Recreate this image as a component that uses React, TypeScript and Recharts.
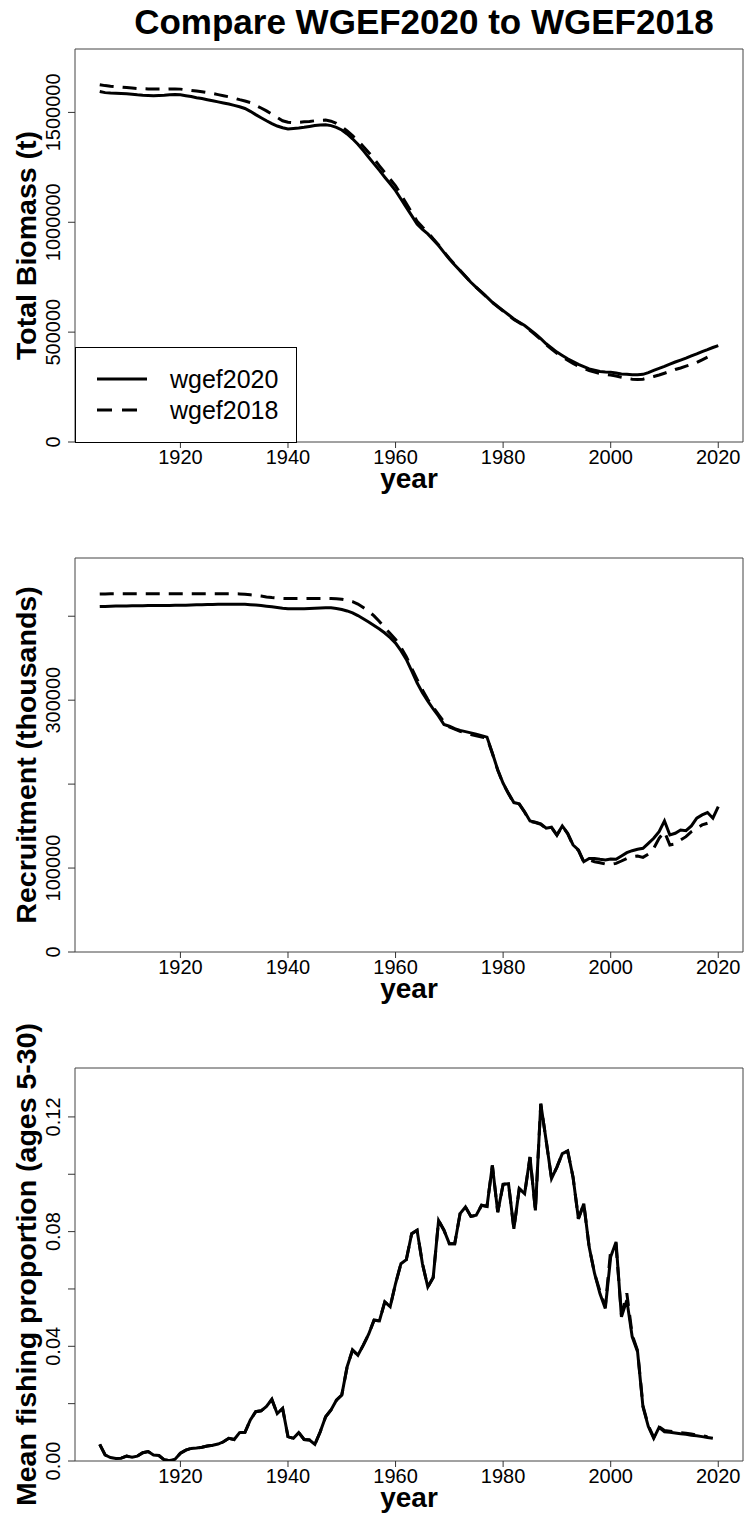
import React from "react";
import { LineChart, Line, XAxis, YAxis, ReferenceArea, Legend } from "recharts";

const FONT = '"Liberation Sans", Arial, Helvetica, sans-serif';

// years shared by every panel
const years: number[] = Array.from({ length: 116 }, (_, i) => 1905 + i);
const yearTicks = [1920, 1940, 1960, 1980, 2000, 2020];

// total biomass (t)
const biomass2020 = [
  1595000, 1590000, 1588000, 1587000, 1586000, 1585000, 1583000, 1580000, 1578000, 1577000,
  1576000, 1577000, 1578000, 1580000, 1581000, 1580000, 1576000, 1572000, 1567000, 1563000,
  1558000, 1553000, 1548000, 1543000, 1538000, 1532000, 1526000, 1518000, 1505000, 1490000,
  1476000, 1462000, 1449000, 1438000, 1430000, 1425000, 1427000, 1429000, 1432000, 1436000,
  1440000, 1443000, 1444000, 1440000, 1432000, 1420000, 1402000, 1380000, 1355000, 1326000,
  1296000, 1266000, 1236000, 1205000, 1175000, 1144000, 1106000, 1068000, 1030000, 992000,
  968000, 947000, 920000, 894000, 863000, 833000, 806000, 780000, 753000, 727000,
  704000, 682000, 659000, 636000, 617000, 598000, 579000, 560000, 545000, 530000,
  511000, 492000, 470000, 447000, 428000, 409000, 394000, 379000, 366000, 353000,
  343000, 333000, 327000, 321000, 319000, 318000, 314000, 310000, 308000, 306000,
  306000, 308000, 316000, 326000, 335000, 344000, 354000, 364000, 373000, 382000,
  392000, 401000, 411000, 420000, 430000, 439000,
];
const biomass2018 = [
  1626000, 1622000, 1619000, 1617000, 1615000, 1613000, 1611000, 1609000, 1608000, 1607000,
  1606000, 1606000, 1606000, 1607000, 1607000, 1606000, 1603000, 1600000, 1597000, 1594000,
  1590000, 1586000, 1581000, 1576000, 1571000, 1565000, 1558000, 1552000, 1545000, 1532000,
  1520000, 1507000, 1492000, 1477000, 1462000, 1455000, 1453000, 1455000, 1457000, 1459000,
  1462000, 1464000, 1465000, 1460000, 1450000, 1435000, 1416000, 1394000, 1371000, 1345000,
  1318000, 1288000, 1257000, 1226000, 1196000, 1166000, 1126000, 1085000, 1045000, 1005000,
  978000, 955000, 925000, 897000, 866000, 835000, 808000, 781000, 754000, 727000,
  704000, 681000, 658000, 635000, 615000, 596000, 577000, 558000, 543000, 527000,
  508000, 488000, 466000, 443000, 423000, 404000, 388000, 372000, 358000, 345000,
  335000, 325000, 318000, 312000, 308000, 305000, 300000, 295000, 290000, 286000,
  285000, 286000, 292000, 298000, 305000, 313000, 321000, 330000, 337000, 345000,
  353000, 362000, 374000, 386000,
];

// recruitment (thousands)
const recruit2020 = [
  411500, 411700, 411900, 412100, 412200, 412300, 412400, 412500, 412600, 412700,
  412800, 412800, 412900, 412900, 413000, 413000, 413200, 413400, 413600, 413800,
  414000, 414100, 414200, 414300, 414300, 414300, 414400, 414200, 413800, 413300,
  412800, 412000, 411200, 410300, 409500, 409000, 408800, 408800, 409000, 409300,
  409500, 409800, 410000, 410000, 409300, 408000, 406300, 404000, 400800, 397000,
  393200, 389000, 384700, 380000, 374500, 368000, 359000, 348600, 335000, 320700,
  309000, 298800, 289500, 280900, 271000, 269000, 266000, 264000, 262500, 261000,
  259500, 257800, 256000, 237000, 217000, 201000, 189000, 178000, 176500, 167000,
  156000, 154600, 152600, 147400, 148600, 139400, 150200, 141400, 127500, 121500,
  107600, 111500, 111500, 110400, 109600, 110800, 110400, 114300, 118300, 120700,
  122300, 123500, 129500, 135500, 143400, 156200, 139400, 141400, 145400, 144600,
  150200, 159400, 163300, 166100, 159400, 173300,
];
const recruit2018 = [
  426500, 426600, 426700, 426700, 426700, 426700, 426700, 426700, 426700, 426700,
  426700, 426700, 426700, 426700, 426700, 426700, 426700, 426700, 426700, 426700,
  426700, 426700, 426700, 426700, 426700, 426700, 426600, 426200, 425500, 424800,
  424000, 423000, 422200, 421600, 421300, 421100, 421000, 421000, 421000, 421100,
  421100, 421100, 421100, 421000, 420800, 420300, 419200, 417500, 414500, 410300,
  405800, 400400, 393800, 386400, 379500, 372500, 363000, 351800, 338000, 324700,
  312000, 300800, 291500, 282900, 274000, 268100, 265500, 263000, 261000, 259000,
  257600, 256200, 255000, 236500, 216500, 200500, 188500, 177500, 176000, 166500,
  155500, 154200, 152200, 147000, 148200, 139000, 149800, 141000, 127000, 121000,
  107000, 109600, 107600, 106400, 104800, 104400, 105600, 108400, 111500, 113500,
  114300, 112700, 116700, 123500, 135500, 143400, 127500, 128700, 133500, 137400,
  143400, 147400, 151400, 153400,
];

// mean fishing proportion (ages 5-30)
const fishing2020 = [
  0.0058, 0.0021, 0.0012, 0.0009, 0.001, 0.0017, 0.0013, 0.0017, 0.0029, 0.0033,
  0.0021, 0.0019, 0.0004, 0.0001, 0.0006, 0.0027, 0.0038, 0.0044, 0.0045, 0.0048,
  0.0052, 0.0055, 0.0059, 0.0067, 0.0079, 0.0075, 0.0099, 0.01, 0.0143, 0.0172,
  0.0175, 0.019, 0.0215, 0.0165, 0.0183, 0.0085, 0.0079, 0.0099, 0.0075, 0.0073,
  0.0058, 0.0102, 0.0154, 0.0178, 0.0212, 0.023, 0.0329, 0.0387, 0.0369, 0.0404,
  0.0442, 0.0491, 0.0489, 0.0555, 0.0538, 0.0619, 0.0688, 0.0702, 0.0793, 0.0805,
  0.0688, 0.0607, 0.064, 0.0839, 0.0805, 0.0758, 0.0758, 0.0863, 0.0886, 0.0853,
  0.0857, 0.0892, 0.0888, 0.1031, 0.0868, 0.0965, 0.0967, 0.081, 0.095, 0.0932,
  0.106, 0.0874, 0.1246, 0.1118, 0.0985, 0.1025, 0.1072, 0.1081, 0.099, 0.0845,
  0.0897, 0.0746, 0.0654, 0.0584, 0.0532, 0.0712, 0.0764, 0.0503, 0.0561, 0.0433,
  0.0381, 0.0189, 0.012, 0.0079, 0.0117, 0.0102, 0.01, 0.0098, 0.0095, 0.0093,
  0.009, 0.0088, 0.0085, 0.0082, 0.0079,
];
const fishing2018 = [
  0.0058, 0.0021, 0.0012, 0.0009, 0.001, 0.0017, 0.0013, 0.0017, 0.0029, 0.0033,
  0.0021, 0.0019, 0.0004, 0.0001, 0.0006, 0.0027, 0.0038, 0.0044, 0.0045, 0.0048,
  0.0052, 0.0055, 0.0059, 0.0067, 0.0079, 0.0075, 0.0099, 0.01, 0.0143, 0.0172,
  0.0175, 0.019, 0.0215, 0.0165, 0.0183, 0.0085, 0.0079, 0.0099, 0.0075, 0.0073,
  0.0058, 0.0102, 0.0154, 0.0178, 0.0212, 0.023, 0.0329, 0.0387, 0.0369, 0.0404,
  0.0442, 0.0491, 0.0489, 0.0555, 0.0538, 0.0619, 0.0688, 0.0702, 0.0793, 0.0805,
  0.0688, 0.0607, 0.064, 0.0839, 0.0805, 0.0758, 0.0758, 0.0863, 0.0886, 0.0853,
  0.0857, 0.0892, 0.0888, 0.1031, 0.0868, 0.0965, 0.0967, 0.081, 0.095, 0.0932,
  0.106, 0.0874, 0.1246, 0.1118, 0.0985, 0.1025, 0.1072, 0.1081, 0.099, 0.0845,
  0.0897, 0.0746, 0.0654, 0.0592, 0.054, 0.0735, 0.075, 0.051, 0.0585, 0.044,
  0.0385, 0.0192, 0.0123, 0.0082, 0.0119, 0.0106, 0.0104, 0.0101, 0.0099, 0.0097,
  0.0094, 0.0091, 0.0088, 0.0085,
];

const biomassTicks = [0, 500000, 1000000, 1500000];
const recruitTicks = [0, 100000, 200000, 300000, 400000];
const recruitShown = [0, 100000, 300000];
const fishingTicks = [0, 0.02, 0.04, 0.06, 0.08, 0.1, 0.12];
const fishingShown = [0, 0.04, 0.08, 0.12];

const X_MIN = 1900.4;
const X_MAX = 2024.6;

const toRows = (a: number[], b: number[]) =>
  years.map((year, i) => ({ year, a: a[i], b: b[i] }));

const YTitle = ({ text, midY }: { text: string; midY: number }) => (
  <text
    x={36}
    y={midY}
    transform={`rotate(-90 36 ${midY})`}
    textAnchor="middle"
    fontFamily={FONT}
    fontWeight="bold"
    fontSize={28.5}
    fill="#000"
  >
    {text}
  </text>
);

const XTitle = ({ baseY }: { baseY: number }) => (
  <text x={409} y={baseY} textAnchor="middle" fontFamily={FONT} fontWeight="bold" fontSize={28} fill="#000">
    year
  </text>
);

const LegendBox = () => (
  <svg width={222} height={96} style={{ display: "block" }}>
    <rect x={0.5} y={0.5} width={221} height={95} fill="#fff" stroke="#000" strokeWidth={1} />
    <line x1={22} x2={72} y1={32} y2={32} stroke="#000" strokeWidth={3} />
    <line x1={22} x2={72} y1={63} y2={63} stroke="#000" strokeWidth={3} strokeDasharray="15 10" />
    <text x={95} y={41} fontFamily={FONT} fontSize={25} fill="#000">wgef2020</text>
    <text x={95} y={72} fontFamily={FONT} fontSize={25} fill="#000">wgef2018</text>
  </svg>
);

type PanelProps = {
  top: number;
  height: number;
  plotTop: number;
  plotBottom: number;
  rows: { year: number; a?: number; b?: number }[];
  yMax: number;
  yTicks: number[];
  yShown: number[];
  fmt: (v: number) => string;
  title: string;
  legend?: boolean;
};

const Panel = ({ top, height, plotTop, plotBottom, rows, yMax, yTicks, yShown, fmt, title, legend }: PanelProps) => {
  const midY = (plotTop + plotBottom) / 2;
  const YTick = (props: any) => {
    const { y, payload } = props;
    if (!yShown.some((s) => Math.abs(s - payload.value) < 1e-9)) return <g />;
    return (
      <text
        x={60}
        y={y}
        transform={`rotate(-90 60 ${y})`}
        textAnchor="middle"
        fontFamily={FONT}
        fontSize={20}
        fill="#000"
      >
        {fmt(payload.value)}
      </text>
    );
  };
  return (
    <div style={{ position: "absolute", left: 0, top, width: 745, height }}>
      <LineChart
        width={745}
        height={height}
        data={rows}
        margin={{ top: plotTop, right: 2, left: 0, bottom: 0 }}
      >
        <XAxis
          dataKey="year"
          type="number"
          domain={[X_MIN, X_MAX]}
          ticks={yearTicks}
          allowDataOverflow
          height={height - plotBottom}
          axisLine={false}
          tickSize={6}
          tickMargin={2}
          tickLine={{ stroke: "#333" }}
          tick={{ fill: "#000", fontSize: 20, fontFamily: FONT }}
          label={<XTitle baseY={plotBottom + 46} />}
        />
        <YAxis
          type="number"
          domain={[0, yMax]}
          ticks={yTicks}
          allowDataOverflow
          width={75}
          axisLine={false}
          tickSize={7}
          tickLine={{ stroke: "#333" }}
          tick={<YTick />}
          label={<YTitle text={title} midY={midY} />}
        />
        <ReferenceArea
          x1={X_MIN}
          x2={X_MAX}
          y1={0}
          y2={yMax}
          fill="none"
          fillOpacity={0}
          stroke="#444"
          strokeWidth={1}
          ifOverflow="visible"
        />
        <Line
          dataKey="b"
          type="linear"
          stroke="#000"
          strokeWidth={3}
          strokeDasharray="14 9"
          dot={false}
          isAnimationActive={false}
        />
        <Line dataKey="a" type="linear" stroke="#000" strokeWidth={3} dot={false} isAnimationActive={false} />
        {legend && (
          <Legend
            layout="vertical"
            align="center"
            verticalAlign="middle"
            content={() => <LegendBox />}
            wrapperStyle={{ left: 75, top: plotBottom - 95, width: 222, height: 96 }}
          />
        )}
      </LineChart>
    </div>
  );
};

const maxOf = (a: number[], b: number[]) => Math.max(...a, ...b) * 1.1;

export default function App() {
  return (
    <div
      style={{
        position: "absolute",
        left: 0,
        top: 0,
        width: 745,
        height: 1517,
        overflow: "hidden",
        background: "#fff",
      }}
    >
      <svg width={745} height={48} style={{ position: "absolute", left: 0, top: 0 }}>
        <text x={424} y={34} textAnchor="middle" fontFamily={FONT} fontWeight="bold" fontSize={35} fill="#000">
          Compare WGEF2020 to WGEF2018
        </text>
      </svg>
      <Panel
        top={0}
        height={510}
        plotTop={49}
        plotBottom={442}
        rows={toRows(biomass2020, biomass2018)}
        yMax={maxOf(biomass2020, biomass2018)}
        yTicks={biomassTicks}
        yShown={biomassTicks}
        fmt={(v) => String(v)}
        title="Total Biomass (t)"
        legend
      />
      <Panel
        top={510}
        height={510}
        plotTop={48}
        plotBottom={442}
        rows={toRows(recruit2020, recruit2018)}
        yMax={maxOf(recruit2020, recruit2018)}
        yTicks={recruitTicks}
        yShown={recruitShown}
        fmt={(v) => String(v)}
        title="Recruitment (thousands)"
      />
      <Panel
        top={1020}
        height={497}
        plotTop={48}
        plotBottom={441}
        rows={toRows(fishing2020, fishing2018)}
        yMax={maxOf(fishing2020, fishing2018)}
        yTicks={fishingTicks}
        yShown={fishingShown}
        fmt={(v) => v.toFixed(2)}
        title="Mean fishing proportion (ages 5-30)"
      />
    </div>
  );
}
